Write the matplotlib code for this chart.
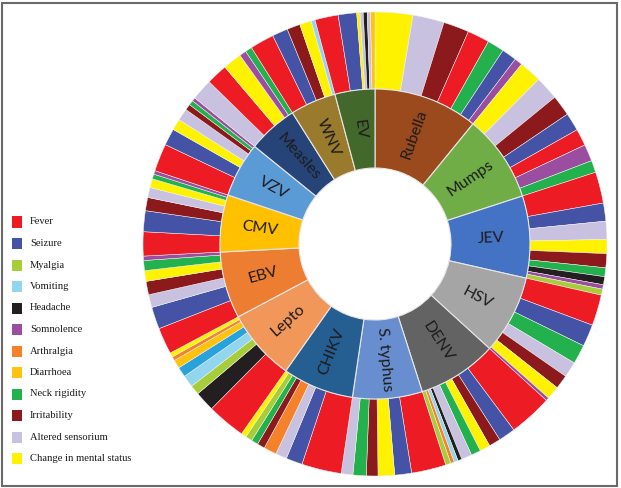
import matplotlib
matplotlib.use("Agg")
import matplotlib.pyplot as plt
from matplotlib.patches import Rectangle

# ---------------- data ----------------
pathogens = ["Rubella", "Mumps", "JEV", "HSV", "DENV", "S. typhus", "CHIKV",
             "Lepto", "EBV", "CMV", "VZV", "Measles", "WNV", "EV"]
pathogen_colors = ["#9b4a1e", "#70ad47", "#4472c4", "#a5a5a5", "#636363", "#698ed0",
                   "#255e91", "#f1975a", "#ed7d31", "#ffc000", "#5b9bd5", "#264478",
                   "#9a7a2c", "#43682b"]

legend_labels = ["Fever", "Seizure", "Myalgia", "Vomiting", "Headache", "Somnolence",
                 "Arthralgia", "Diarrhoea", "Neck rigidity", "Irritability",
                 "Altered sensorium", "Change in mental status"]
legend_codes = ["F", "Sz", "My", "Vo", "He", "So", "Ar", "Di", "NR", "Ir", "AS", "CMS"]
symptom_colors = {"F": "#ed1c24", "Sz": "#4453a6", "My": "#a8cd3a", "Vo": "#92d5ef",
                  "He": "#231f20", "So": "#9b4ea0", "Ar": "#f5812a", "Di": "#ffc20e",
                  "NR": "#22b14c", "Ir": "#8c1a1d", "AS": "#c8c1df", "CMS": "#fff200",
                  "Vo2": "#27a2dc"}

# outer ring segments, clockwise within each pathogen
rubella_sym = ["CMS", "AS", "Ir", "F", "NR", "Sz", "So"]
rubella_val = [9.4, 7.8, 6.4, 5.5, 4.2, 3.7, 2.0]
mumps_sym = ["CMS", "AS", "Ir", "Sz", "F", "So", "NR"]
mumps_val = [5.6, 5.9, 5.2, 4.5, 4.2, 4.2, 3.0]
jev_sym = ["F", "Sz", "AS", "CMS", "Ir", "NR", "He", "So", "My"]
jev_val = [7.8, 4.5, 4.5, 3.5, 3.5, 2.2, 2.0, 1.1, 1.5]
hsv_sym = ["F", "Sz", "NR", "AS", "Ir", "CMS", "So"]
hsv_val = [7.7, 5.5, 4.8, 3.9, 3.5, 3.3, 0.8]
denv_sym = ["F", "Sz", "Ir", "CMS", "NR", "AS", "He", "Vo", "Ar", "My"]
denv_val = [10.8, 4.2, 2.9, 2.6, 2.4, 2.6, 1.0, 1.0, 0.9, 1.3]
typhus_sym = ["F", "Sz", "CMS", "Ir", "NR", "AS"]
typhus_val = [8.6, 4.2, 4.1, 2.9, 3.3, 2.9]
chikv_sym = ["F", "Sz", "AS", "Ar", "Ir", "NR", "My", "CMS"]
chikv_val = [9.9, 4.1, 2.8, 3.2, 1.9, 1.7, 1.7, 1.3]
lepto_sym = ["F", "He", "My", "Vo", "Vo2", "Di", "Ar", "CMS"]
lepto_val = [9.6, 5.0, 2.4, 3.0, 2.5, 2.1, 1.0, 1.1]
ebv_sym = ["F", "Sz", "AS", "Ir", "CMS", "NR", "So"]
ebv_val = [6.6, 5.5, 3.2, 3.35, 2.65, 2.5, 1.1]
cmv_sym = ["F", "Sz", "Ir", "AS", "CMS", "NR", "So"]
cmv_val = [6.0, 5.2, 3.3, 2.5, 2.2, 1.2, 0.9]
vzv_sym = ["F", "Sz", "CMS", "AS", "Ir", "NR", "So"]
vzv_val = [6.9, 4.2, 2.8, 3.0, 1.5, 1.2, 0.9]
measles_sym = ["AS", "F", "CMS", "So", "NR"]
measles_val = [5.3, 5.3, 4.7, 1.7, 1.7]
wnv_sym = ["F", "Sz", "Ir", "CMS", "Vo"]
wnv_val = [6.0, 3.9, 3.3, 2.9, 1.0]
ev_sym = ["F", "Sz", "CMS", "AS", "He", "AS", "Di"]
ev_val = [5.8, 4.6, 0.8, 0.8, 1.0, 0.8, 1.1]

groups_sym = [rubella_sym, mumps_sym, jev_sym, hsv_sym, denv_sym, typhus_sym, chikv_sym,
              lepto_sym, ebv_sym, cmv_sym, vzv_sym, measles_sym, wnv_sym, ev_sym]
groups_val = [rubella_val, mumps_val, jev_val, hsv_val, denv_val, typhus_val, chikv_val,
              lepto_val, ebv_val, cmv_val, vzv_val, measles_val, wnv_val, ev_val]

# ---------------- figure ----------------
W, H = 621, 488
fig = plt.figure(figsize=(W / 100, H / 100), dpi=100)
fig.patch.set_facecolor("white")

cx, cy = 375, 244          # ring centre, pixels from top-left
half = 240
ax = fig.add_axes([(cx - half) / W, (H - cy - half) / H, 2 * half / W, 2 * half / H])

R_OUT, R_MID, R_IN = 232, 155, 76

outer_vals = [v for g in groups_val for v in g]
outer_cols = [symptom_colors[s] for g in groups_sym for s in g]
inner_vals = [sum(g) for g in groups_val]

ax.pie(outer_vals, radius=R_OUT, colors=outer_cols, startangle=90, counterclock=False,
       wedgeprops=dict(width=R_OUT - R_MID, edgecolor="#f2f2f2", linewidth=0.35))
ax.pie(inner_vals, radius=R_MID, colors=pathogen_colors, startangle=90, counterclock=False,
       wedgeprops=dict(width=R_MID - R_IN, edgecolor="#e6e6e6", linewidth=0.8))

import math
total = sum(inner_vals)
cum = 0.0
r_lab = 116
for name, v in zip(pathogens, inner_vals):
    mid = 90 - 360.0 * (cum + v / 2) / total
    cum += v
    x = r_lab * math.cos(math.radians(mid))
    y = r_lab * math.sin(math.radians(mid))
    rot = mid
    while rot > 90:
        rot -= 180
    while rot < -90:
        rot += 180
    ax.text(x, y, name, rotation=rot, rotation_mode="anchor", ha="center", va="center",
            fontsize=11.5, family=["Lato", "DejaVu Sans"], color="#1c1c1c")

ax.set_xlim(-half, half)
ax.set_ylim(-half, half)
ax.set_aspect("equal")
ax.axis("off")

# ---------------- legend ----------------
y0, dy = 222, 21.5
for i, (lab, code) in enumerate(zip(legend_labels, legend_codes)):
    yc = y0 + i * dy
    fig.patches.append(Rectangle((11.5 / W, 1 - (yc + 5.5) / H), 11 / W, 11 / H,
                                 transform=fig.transFigure, facecolor=symptom_colors[code],
                                 edgecolor="none"))
    fig.text(30 / W, 1 - yc / H, lab, ha="left", va="center", fontsize=7.6,
             family=["Liberation Serif", "DejaVu Serif"], color="#1a1a1a")

# frame around the whole picture
fig.patches.append(Rectangle((1.5 / W, 2 / H), (617 - 1.5) / W, (486 - 3) / H,
                             transform=fig.transFigure, fill=False,
                             edgecolor="#6a6a6a", linewidth=1.5))

fig.savefig("out.png", dpi=100, facecolor="white")
